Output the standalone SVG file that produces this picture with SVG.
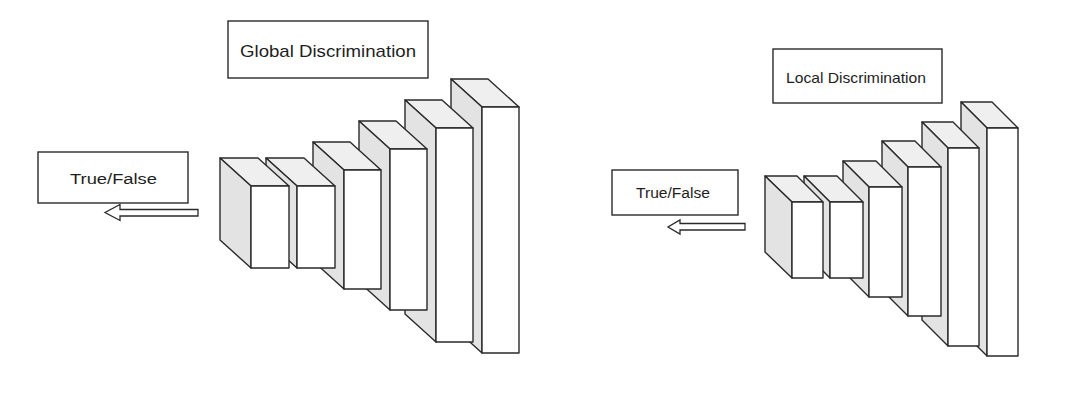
<svg xmlns="http://www.w3.org/2000/svg" width="1080" height="410" viewBox="0 0 1080 410">
<style>
  .bg{fill:#ffffff}
  .box{fill:#ffffff;stroke:#2a2a2a;stroke-width:1.4}
  .front{fill:#ffffff;stroke:#2a2a2a;stroke-width:1.4;stroke-linejoin:round}
  .top{fill:#efefef;stroke:#2a2a2a;stroke-width:1.4;stroke-linejoin:round}
  .side{fill:#e3e3e3;stroke:#2a2a2a;stroke-width:1.4;stroke-linejoin:round}
  .arrow{fill:#ffffff;stroke:#2a2a2a;stroke-width:1.3;stroke-linejoin:miter}
  .lbl{font-family:"Liberation Sans",Arial,Helvetica,sans-serif;fill:#1e1e1e;text-anchor:middle}
</style>
<rect class="bg" x="0" y="0" width="1080" height="410"/>

<g id="global-label">
  <rect class="box" x="228" y="21" width="200" height="57"/>
  <text class="lbl" x="328" y="57" font-size="17" textLength="176" lengthAdjust="spacingAndGlyphs">Global Discrimination</text>
</g>
<g id="local-label">
  <rect class="box" x="773" y="49" width="169" height="54"/>
  <text class="lbl" x="856" y="83" font-size="14.5" textLength="140" lengthAdjust="spacingAndGlyphs">Local Discrimination</text>
</g>
<g id="output-left">
  <rect class="box" x="38" y="152" width="150" height="51"/>
  <text class="lbl" x="113.5" y="183.5" font-size="15.5" textLength="87" lengthAdjust="spacingAndGlyphs">True/False</text>
</g>
<g id="output-right">
  <rect class="box" x="612" y="170" width="126" height="45"/>
  <text class="lbl" x="673" y="198" font-size="14" textLength="74" lengthAdjust="spacingAndGlyphs">True/False</text>
</g>

<!-- Left discriminator: drawn back (right) to front (left) -->
<g id="g-layer6">
  <polygon class="top" points="451,79 488,79 519,107 482,107"/>
  <polygon class="side" points="451,79 482,107 482,353 451,325"/>
  <rect class="front" x="482" y="107" width="37" height="246"/>
</g>
<g id="g-layer5">
  <polygon class="top" points="405,100 442,100 473,128 436,128"/>
  <polygon class="side" points="405,100 436,128 436,342 405,314"/>
  <rect class="front" x="436" y="128" width="37" height="214"/>
</g>
<g id="g-layer4">
  <polygon class="top" points="359,121 396,121 427,149 390,149"/>
  <polygon class="side" points="359,121 390,149 390,310 359,282"/>
  <rect class="front" x="390" y="149" width="37" height="161"/>
</g>
<g id="g-layer3">
  <polygon class="top" points="313,142 350,142 381,170 344,170"/>
  <polygon class="side" points="313,142 344,170 344,289 313,261"/>
  <rect class="front" x="344" y="170" width="37" height="119"/>
</g>
<g id="g-layer2">
  <polygon class="top" points="266,158 304,158 335,186 297,186"/>
  <polygon class="side" points="266,158 297,186 297,268 266,240"/>
  <rect class="front" x="297" y="186" width="38" height="82"/>
</g>
<g id="g-layer1">
  <polygon class="top" points="220,158 258,158 289,186 251,186"/>
  <polygon class="side" points="220,158 251,186 251,268 220,240"/>
  <rect class="front" x="251" y="186" width="38" height="82"/>
</g>

<!-- Right discriminator -->
<g id="l-layer6">
  <polygon class="top" points="961,102 992,102 1018,128 987,128"/>
  <polygon class="side" points="961,102 987,128 987,356 961,330"/>
  <rect class="front" x="987" y="128" width="31" height="228"/>
</g>
<g id="l-layer5">
  <polygon class="top" points="922,122 953,122 979,148 948,148"/>
  <polygon class="side" points="922,122 948,148 948,346 922,320"/>
  <rect class="front" x="948" y="148" width="31" height="198"/>
</g>
<g id="l-layer4">
  <polygon class="top" points="882,141 915,141 941,167 908,167"/>
  <polygon class="side" points="882,141 908,167 908,316 882,290"/>
  <rect class="front" x="908" y="167" width="33" height="149"/>
</g>
<g id="l-layer3">
  <polygon class="top" points="843,161 876,161 902,187 869,187"/>
  <polygon class="side" points="843,161 869,187 869,297 843,271"/>
  <rect class="front" x="869" y="187" width="33" height="110"/>
</g>
<g id="l-layer2">
  <polygon class="top" points="804,176 837,176 863,202 830,202"/>
  <polygon class="side" points="804,176 830,202 830,278 804,252"/>
  <rect class="front" x="830" y="202" width="33" height="76"/>
</g>
<g id="l-layer1">
  <polygon class="top" points="765,176 797,176 823,202 792,202"/>
  <polygon class="side" points="765,176 792,202 792,278 765,252"/>
  <rect class="front" x="792" y="202" width="31" height="76"/>
</g>

<g id="connectors">
  <polygon class="arrow" points="198,209.5 120,209.5 120,204.5 105,212.5 120,220.5 120,216 198,216"/>
  <polygon class="arrow" points="745,223.5 680,223.5 680,220 668,227 680,234 680,230 745,230"/>
</g>
</svg>
